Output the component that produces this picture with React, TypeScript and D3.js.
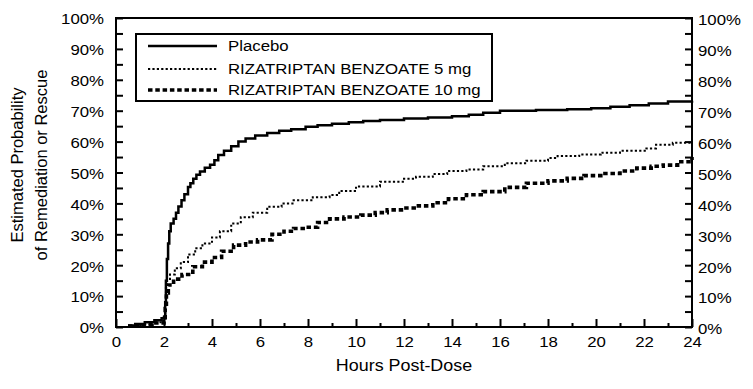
import React, { useEffect, useRef } from "react";
import * as d3 from "d3";

const width = 753;
const height = 389;
const margin = { top: 18, right: 61, bottom: 62, left: 116 };

// hours post-dose / cumulative % (Kaplan-Meier steps)
const placeboHours = [0.5, 0.8, 1.2, 1.6, 1.9, 2.0, 2.05, 2.08, 2.12, 2.17, 2.22, 2.28, 2.4, 2.5, 2.6, 2.73, 2.85, 3.0, 3.1, 3.22, 3.35, 3.5, 3.7, 3.92, 4.1, 4.26, 4.5, 4.8, 5.1, 5.4, 5.8, 6.3, 6.8, 7.3, 7.9, 8.4, 9.0, 9.7, 10.3, 11.0, 12.0, 13.0, 14.0, 14.7, 15.3, 16.0, 17.5, 18.8, 19.8, 20.6, 21.4, 22.2, 23.0, 24];
const placeboPct = [0.5, 1.0, 1.5, 2.2, 2.8, 3.2, 8, 15, 22, 27, 31, 33.5, 35, 37, 39, 41, 43, 45.3, 46.5, 48, 49.3, 50.3, 51.5, 52.5, 54, 55.7, 57, 58.5, 60, 61, 62, 62.8, 63.5, 64, 64.8, 65.3, 65.8, 66.3, 66.7, 67, 67.5, 67.8, 68.2, 68.7, 69.3, 70, 70.2, 70.5, 70.8, 71.3, 71.8, 72.3, 73, 73.2];

const riza5Hours = [0.5, 1.0, 1.5, 2.0, 2.05, 2.08, 2.12, 2.25, 2.45, 2.7, 3.0, 3.3, 3.6, 4.0, 4.33, 4.8, 5.2, 5.7, 6.3, 6.9, 7.4, 8.2, 8.9, 9.3, 10.0, 11.0, 12.0, 12.5, 13.2, 13.8, 14.6, 15.3, 16.2, 17.1, 18.0, 18.4, 19.3, 20.2, 21.0, 22.1, 22.5, 23.2, 24];
const riza5Pct = [0.3, 0.8, 1.5, 2.0, 8, 13, 15.5, 17, 19, 21, 23.5, 25.5, 27, 29, 31, 33.5, 35.5, 37, 38.9, 40, 41, 42, 42.7, 44, 45.5, 47, 48, 48.6, 49.5, 50.5, 51, 52, 53, 53.8, 54.7, 55.3, 55.8, 56.4, 57, 57.8, 59, 59.6, 60.2];

const riza10Hours = [0.5, 1.0, 1.5, 2.0, 2.05, 2.1, 2.18, 2.4, 2.75, 3.2, 3.6, 4.0, 4.4, 4.9, 5.4, 5.9, 6.5, 7.0, 7.4, 7.9, 8.4, 8.9, 9.5, 10.2, 10.8, 11.3, 12.0, 12.5, 13.2, 13.85, 14.6, 15.3, 16.2, 17.1, 18.0, 18.8, 19.5, 20.2, 21.0, 21.7, 22.3, 22.8, 23.4, 24];
const riza10Pct = [0.3, 0.7, 1.3, 1.8, 6, 11, 13.6, 15.5, 17, 19.5, 21, 22.5, 24.5, 26.5, 27.5, 28.2, 30, 31, 31.9, 32.3, 33.8, 35, 35.6, 36.2, 37, 37.9, 38.5, 39.2, 40.2, 41.5, 42.8, 43.8, 45.2, 46.5, 47.3, 48.1, 49, 49.7, 50.5, 51.4, 52, 52.4, 53.5, 55];

const seriesNames = ["Placebo", "RIZATRIPTAN BENZOATE 5 mg", "RIZATRIPTAN BENZOATE 10 mg"];
const xTickValues = [0, 1, 2, 3, 4, 5, 6, 7, 8, 9, 10, 11, 12, 13, 14, 15, 16, 17, 18, 19, 20, 21, 22, 23, 24];
const xTickLabels = [0, 2, 4, 6, 8, 10, 12, 14, 16, 18, 20, 22, 24];
const yTickValues = [0, 5, 10, 15, 20, 25, 30, 35, 40, 45, 50, 55, 60, 65, 70, 75, 80, 85, 90, 95, 100];
const yTickLabels = [0, 10, 20, 30, 40, 50, 60, 70, 80, 90, 100];

const styles = [
  { width: 2.5, dash: null },
  { width: 2, dash: "2.2,2.2" },
  { width: 3.6, dash: "4.5,2.8" },
];

const FONT = "'Liberation Sans', Arial, sans-serif";
const SX = 1.12; // the source type is a bit wide

const stretch = (sel, dx = 0, dy = 0) =>
  sel.each(function () {
    const t = d3.select(this);
    const x = +t.attr("x") || 0;
    const y = +t.attr("y") || 0;
    t.attr("x", 0)
      .attr("y", 0)
      .attr("transform", `translate(${x + dx},${y + dy}) scale(${SX},1)`);
  });

const App = () => {
  const ref = useRef(null);

  useEffect(() => {
    drawChart();
  }, []);

  const drawChart = () => {
    const svg = d3.select(ref.current);
    svg.selectAll("*").remove();

    const x = d3
      .scaleLinear()
      .domain([0, 24])
      .range([margin.left, width - margin.right]);
    const y = d3
      .scaleLinear()
      .domain([0, 100])
      .range([height - margin.bottom, margin.top]);

    // left axis
    const yl = svg
      .append("g")
      .attr("transform", `translate(${margin.left},0)`)
      .call(
        d3
          .axisLeft(y)
          .tickValues(yTickValues)
          .tickSize(-7)
          .tickSizeOuter(0)
          .tickPadding(12)
          .tickFormat((d) => (yTickLabels.includes(d) ? `${d}%` : ""))
      );
    // right axis
    const yr = svg
      .append("g")
      .attr("transform", `translate(${width - margin.right},0)`)
      .call(
        d3
          .axisRight(y)
          .tickValues(yTickValues)
          .tickSize(-7)
          .tickSizeOuter(0)
          .tickPadding(6)
          .tickFormat((d) => (yTickLabels.includes(d) ? `${d}%` : ""))
      );
    // bottom axis
    const xb = svg
      .append("g")
      .attr("transform", `translate(0,${height - margin.bottom})`)
      .call(
        d3
          .axisBottom(x)
          .tickValues(xTickValues)
          .tickSize(-8)
          .tickSizeOuter(0)
          .tickPadding(9)
          .tickFormat((d) => (xTickLabels.includes(d) ? `${d}` : ""))
      );
    xb.selectAll(".tick line").attr("y2", (d) => (d % 2 === 0 ? -8 : -4));

    [yl, yr, xb].forEach((g) => {
      g.select(".domain").remove();
      g.selectAll(".tick line").attr("stroke", "#000").attr("stroke-width", 2);
      g.selectAll("text")
        .attr("font-family", FONT)
        .attr("font-size", 15)
        .attr("fill", "#000");
    });
    stretch(yl.selectAll("text"), 0, 1);
    stretch(yr.selectAll("text"), 0, 2);
    stretch(xb.selectAll("text"));

    // frame
    svg
      .append("rect")
      .attr("x", margin.left)
      .attr("y", margin.top)
      .attr("width", width - margin.left - margin.right)
      .attr("height", height - margin.top - margin.bottom)
      .attr("fill", "none")
      .attr("stroke", "#000")
      .attr("stroke-width", 2);

    // curves
    const line = d3
      .line()
      .x((d) => x(d[0]))
      .y((d) => y(d[1]))
      .curve(d3.curveStepAfter);

    const series = [
      d3.zip(placeboHours, placeboPct),
      d3.zip(riza5Hours, riza5Pct),
      d3.zip(riza10Hours, riza10Pct),
    ];

    svg
      .append("g")
      .selectAll("path")
      .data(series)
      .join("path")
      .attr("d", line)
      .attr("fill", "none")
      .attr("stroke", "#000")
      .attr("stroke-width", (d, i) => styles[i].width)
      .attr("stroke-dasharray", (d, i) => styles[i].dash);

    // legend
    const lg = svg.append("g");
    lg.append("rect")
      .attr("x", 136)
      .attr("y", 34)
      .attr("width", 356)
      .attr("height", 67)
      .attr("fill", "#fff")
      .attr("stroke", "#000")
      .attr("stroke-width", 2);
    const rows = lg
      .selectAll("g")
      .data(seriesNames)
      .join("g")
      .attr("transform", (d, i) => `translate(0,${[46, 69, 90][i]})`);
    rows
      .append("line")
      .attr("x1", 148)
      .attr("x2", 217)
      .attr("stroke", "#000")
      .attr("stroke-width", (d, i) => styles[i].width)
      .attr("stroke-dasharray", (d, i) => styles[i].dash);
    rows
      .append("text")
      .attr("x", 228)
      .attr("dy", "0.35em")
      .attr("font-family", FONT)
      .attr("font-size", 15)
      .text((d) => d);
    stretch(rows.selectAll("text"));

    // axis titles
    const xt = svg
      .append("text")
      .attr("x", (margin.left + width - margin.right) / 2)
      .attr("y", 365)
      .attr("dy", "0.35em")
      .attr("text-anchor", "middle")
      .attr("font-family", FONT)
      .attr("font-size", 16)
      .text("Hours Post-Dose");
    stretch(xt);

    const yt = svg
      .append("g")
      .attr("transform", "translate(0,165) rotate(-90)")
      .attr("font-family", FONT)
      .attr("font-size", 16.5)
      .attr("text-anchor", "middle");
    yt.append("text").attr("y", 17).attr("dy", "0.35em").text("Estimated Probability");
    yt.append("text").attr("y", 41).attr("dy", "0.35em").text("of Remediation or Rescue");
  };

  return (
    <svg
      ref={ref}
      width={width}
      height={height}
      style={{ position: "absolute", left: 0, top: 0, background: "#fff" }}
    />
  );
};

export default App;
